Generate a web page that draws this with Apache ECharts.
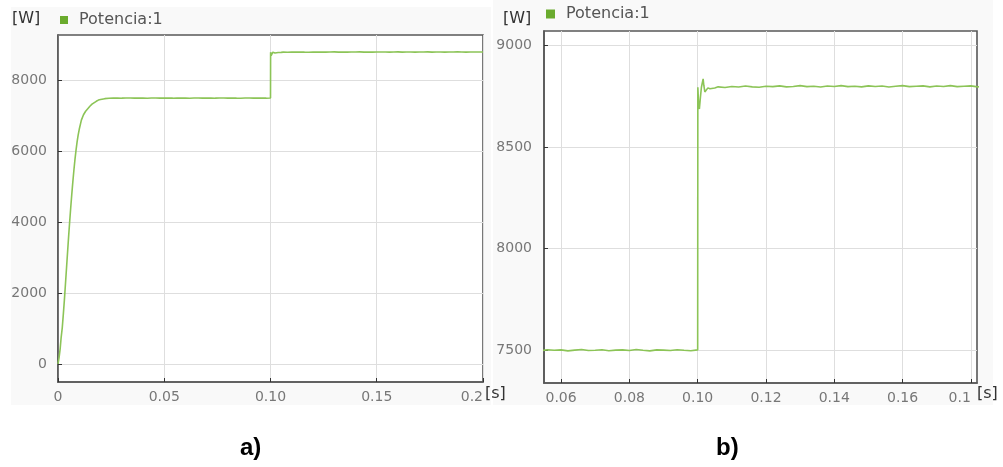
<!DOCTYPE html>
<html>
<head>
<meta charset="utf-8">
<title>Potencia</title>
<script src="https://cdn.jsdelivr.net/npm/echarts@6/dist/echarts.min.js"></script>
<style>
  html, body { margin: 0; padding: 0; background: #ffffff; }
  #chart { width: 1003px; height: 467px; }
</style>
</head>
<body>
<div id="chart"></div>
<script>
// Simulated active power response: start-up ramp, steady 7.5 kW, load step at 0.10 s to ~8.8 kW
const timeS = [
  0, 0.0005, 0.001, 0.0015, 0.002, 0.0025, 0.003, 0.0035, 0.004, 0.0045,
  0.005, 0.0055, 0.006, 0.0065, 0.007, 0.0075, 0.008, 0.0085, 0.009, 0.0095,
  0.010, 0.011, 0.012, 0.013, 0.014, 0.015, 0.016, 0.018, 0.019, 0.020,
  0.022, 0.024, 0.026, 0.028, 0.030,
  0.032, 0.034, 0.036, 0.038, 0.040, 0.042, 0.044, 0.046, 0.048, 0.050,
  0.052, 0.054, 0.056, 0.058, 0.060, 0.062, 0.064, 0.066, 0.068, 0.070,
  0.072, 0.074, 0.076, 0.078, 0.080, 0.082, 0.084, 0.086, 0.088, 0.090,
  0.092, 0.094, 0.096, 0.098, 0.1000,
  0.10005, 0.1003, 0.1005, 0.1008, 0.1011, 0.1014, 0.1016, 0.1018, 0.1021, 0.1025,
  0.1030, 0.1036, 0.104, 0.105, 0.106,
  0.108, 0.110, 0.112, 0.114, 0.116, 0.118, 0.120, 0.122, 0.124, 0.126,
  0.128, 0.130, 0.132, 0.134, 0.136, 0.138, 0.140, 0.142, 0.144, 0.146,
  0.148, 0.150, 0.152, 0.154, 0.156, 0.158, 0.160, 0.162, 0.164, 0.166,
  0.168, 0.170, 0.172, 0.174, 0.176, 0.178, 0.180, 0.182, 0.184, 0.186,
  0.188, 0.190, 0.192, 0.194, 0.196, 0.198, 0.200
];
const powerW = [
  0, 180, 420, 760, 1020, 1400, 1800, 2250, 2700, 3150,
  3600, 4020, 4420, 4800, 5150, 5480, 5780, 6040, 6270, 6460,
  6620, 6880, 7030, 7130, 7200, 7270, 7330, 7410, 7444, 7460,
  7484, 7494, 7500, 7503, 7498,
  7501, 7504, 7499, 7502, 7500, 7497, 7503, 7501, 7499, 7504,
  7500, 7498, 7503, 7500, 7502, 7497, 7501, 7504, 7499, 7500,
  7503, 7498, 7501, 7502, 7499, 7504, 7500, 7497, 7502, 7501,
  7499, 7503, 7500, 7498, 7502,
  8795, 8700, 8688, 8745, 8795, 8820, 8836, 8805, 8772, 8780,
  8792, 8788, 8795, 8791, 8797,
  8794, 8799, 8796, 8801, 8797, 8795, 8800, 8798, 8802, 8797,
  8799, 8803, 8798, 8800, 8796, 8801, 8799, 8803, 8798, 8800,
  8797, 8802, 8799, 8801, 8796, 8800, 8803, 8798, 8800, 8802,
  8797, 8801, 8799, 8803, 8798, 8800, 8802, 8797, 8801, 8799,
  8803, 8800, 8798, 8802, 8799, 8801, 8800
];

// Axis ticks and labels for panel a)
const xTicksA = [0, 0.05, 0.10, 0.15, 0.2];
const xLabelsA = ['0', '0.05', '0.10', '0.15', '0.2'];
const yTicksA = [0, 2000, 4000, 6000, 8000];
// Axis ticks and labels for panel b) (zoom on the load step)
const xTicksB = [0.06, 0.08, 0.10, 0.12, 0.14, 0.16, 0.18];
const xLabelsB = ['0.06', '0.08', '0.10', '0.12', '0.14', '0.16', '0.1'];
const yTicksB = [7500, 8000, 8500, 9000];

const seriesName = 'Potencia:1';
const points = timeS.map((t, i) => [t, powerW[i]]);

const frameColor = '#585858';
const lineGreen = '#8cc457';
const legendGreen = '#6aab2e';
const tickFont = 'DejaVu Sans';
const tickColor = '#777';

function labelFrom(ticks, labels) {
  return function (v) {
    const i = ticks.findIndex(t => Math.abs(t - v) < 1e-9);
    return i >= 0 ? labels[i] : '';
  };
}

function axisBase(ticks, labelExtra, extra) {
  return Object.assign({
    type: 'value',
    axisLine: { show: true, onZero: false, lineStyle: { color: frameColor, width: 1.6 } },
    axisTick: { show: true, inside: true, length: 4, customValues: ticks,
                lineStyle: { color: '#333', width: 1 } },
    splitLine: { show: true, lineStyle: { color: '#dedede', width: 1 } },
    axisLabel: Object.assign({ customValues: ticks, color: tickColor, fontSize: 14,
                               fontFamily: tickFont }, labelExtra)
  }, extra);
}

const chart = echarts.init(document.getElementById('chart'), null, { renderer: 'canvas' });

chart.setOption({
  animation: false,
  backgroundColor: '#ffffff',
  graphic: [
    { type: 'rect', z: -10, shape: { x: 11, y: 7, width: 480, height: 398 },
      style: { fill: '#f9f9f9' } },
    { type: 'rect', z: -10, shape: { x: 493, y: 0, width: 500, height: 405 },
      style: { fill: '#f9f9f9' } },
    { type: 'text', left: 12, top: 11,
      style: { text: '[W]', font: '16px "DejaVu Sans"', fill: '#333' } },
    { type: 'text', left: 503, top: 11,
      style: { text: '[W]', font: '16px "DejaVu Sans"', fill: '#333' } },
    { type: 'text', left: 485, top: 386,
      style: { text: '[s]', font: '16px "DejaVu Sans"', fill: '#333' } },
    { type: 'text', left: 977, top: 386,
      style: { text: '[s]', font: '16px "DejaVu Sans"', fill: '#333' } },
    { type: 'text', left: 240, top: 436,
      style: { text: 'a)', font: 'bold 24px "Liberation Sans"', fill: '#000' } },
    { type: 'text', left: 716, top: 436,
      style: { text: 'b)', font: 'bold 24px "Liberation Sans"', fill: '#000' } }
  ],
  legend: [
    { left: 60, top: 12, padding: 0, icon: 'rect', itemWidth: 8, itemHeight: 8,
      data: [{ name: seriesName, itemStyle: { color: legendGreen } }],
      textStyle: { color: '#555', fontSize: 16, fontFamily: tickFont, padding: [0, 0, 0, 6] } },
    { left: 546, top: 6, padding: 0, icon: 'rect', itemWidth: 9, itemHeight: 9,
      data: [{ name: seriesName, itemStyle: { color: legendGreen } }],
      textStyle: { color: '#555', fontSize: 16, fontFamily: tickFont, padding: [0, 0, 0, 6] } }
  ],
  grid: [
    { left: 58, top: 35, width: 425, height: 347, show: true,
      backgroundColor: '#ffffff', borderColor: frameColor, borderWidth: 1.6 },
    { left: 544, top: 31, width: 433, height: 352, show: true,
      backgroundColor: '#ffffff', borderColor: frameColor, borderWidth: 1.6 }
  ],
  xAxis: [
    axisBase(xTicksA, { formatter: labelFrom(xTicksA, xLabelsA), margin: 8, alignMaxLabel: 'right' },
             { gridIndex: 0, min: 0, max: 0.2 }),
    axisBase(xTicksB, { formatter: labelFrom(xTicksB, xLabelsB), margin: 8, alignMaxLabel: 'right' },
             { gridIndex: 1, min: 0.055, max: 0.1818 })
  ],
  yAxis: [
    axisBase(yTicksA, { formatter: v => String(v), margin: 11 },
             { gridIndex: 0, min: -508, max: 9280 }),
    axisBase(yTicksB, { formatter: v => String(v), margin: 12 },
             { gridIndex: 1, min: 7339, max: 9072 })
  ],
  series: [
    { name: seriesName, type: 'line', xAxisIndex: 0, yAxisIndex: 0, data: points,
      showSymbol: false, clip: true, color: lineGreen,
      lineStyle: { color: lineGreen, width: 1.6 } },
    { name: seriesName, type: 'line', xAxisIndex: 1, yAxisIndex: 1, data: points,
      showSymbol: false, clip: true, color: lineGreen,
      lineStyle: { color: lineGreen, width: 1.6 } }
  ]
});
</script>
</body>
</html>
